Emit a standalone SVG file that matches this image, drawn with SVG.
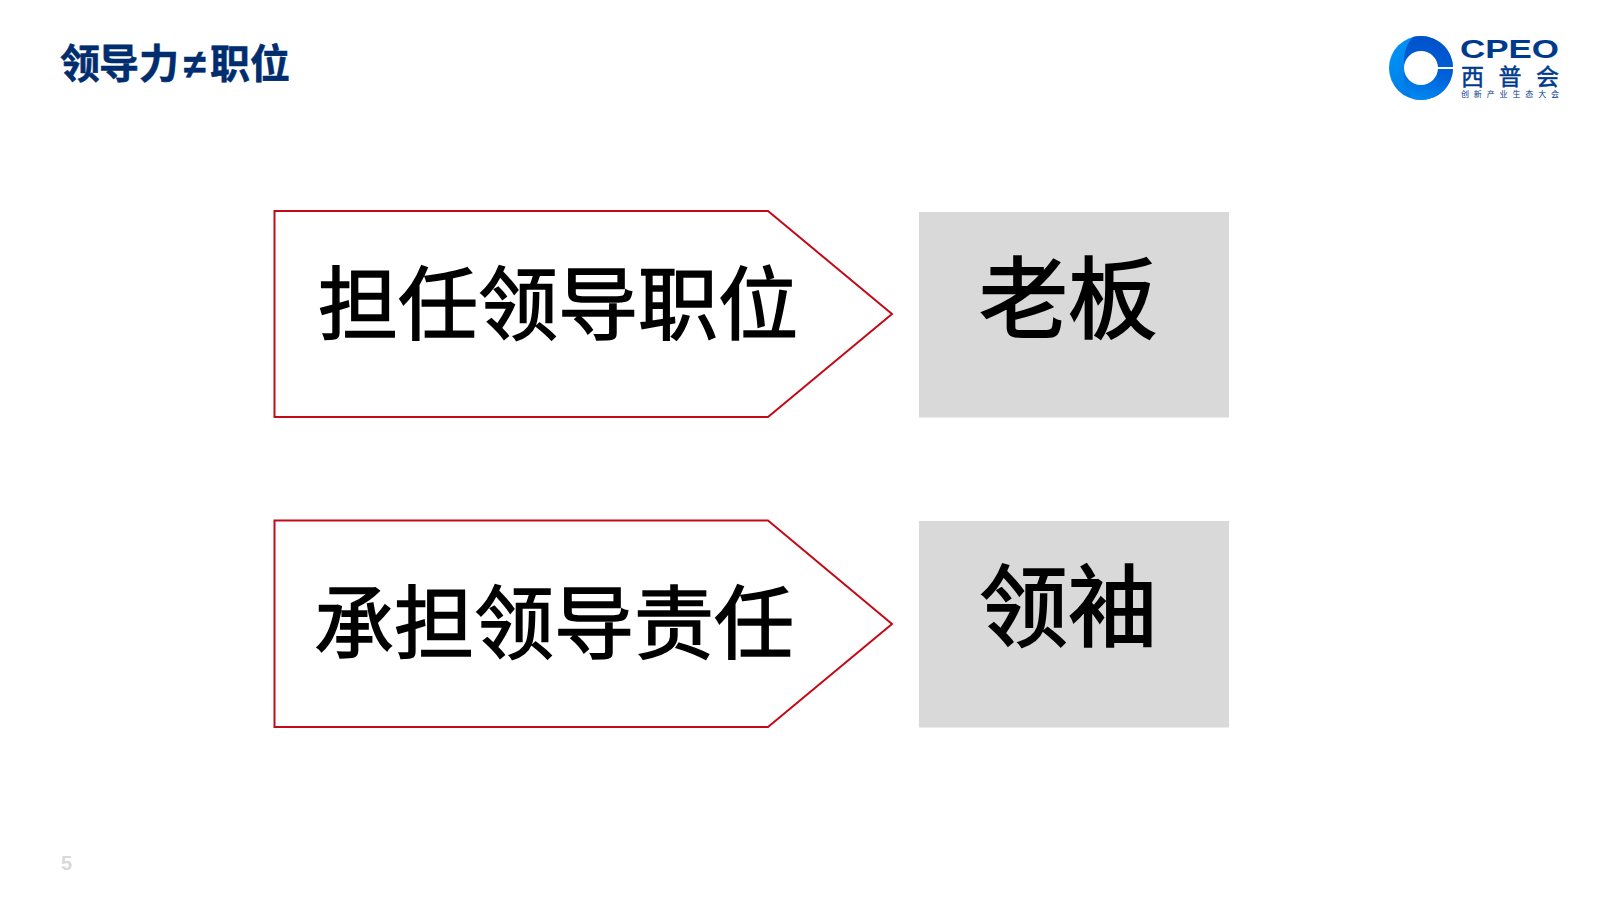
<svg xmlns="http://www.w3.org/2000/svg" width="1600" height="900" viewBox="0 0 1600 900">
<style>
text{font-family:"Liberation Sans","Noto Sans CJK SC",sans-serif}
.arrow{fill:#fff;stroke:#c20a18;stroke-width:2}
.box{fill:#d9d9d9}
.t1{font-size:80px;fill:#000;stroke:#000;stroke-width:1.5px}
.t2{font-size:89px;fill:#000;stroke:#000;stroke-width:1.8px}
.logo{fill:#003a8c}
</style>
<defs>
<linearGradient id="ring" x1="0" y1="0" x2="1" y2="1"><stop offset="0" stop-color="#0098f5"/><stop offset="1" stop-color="#0068e0"/></linearGradient>
<linearGradient id="inner" x1="0.6" y1="0" x2="0.4" y2="1"><stop offset="0" stop-color="#0050c8"/><stop offset="0.55" stop-color="#0060d8"/><stop offset="1" stop-color="#0088f0"/></linearGradient>
</defs>
<rect width="1600" height="900" fill="#fff"/>
<text x="60 99 139 184 210 250" y="78" font-size="40" font-weight="700" fill="#002d6e" stroke="#002d6e" stroke-width="0.6">领导力≠职位</text>
<g id="logo">
<circle cx="1421" cy="68" r="32" fill="url(#ring)"/>
<path d="M1413 37a32 32 0 0 1 40 31a32 32 0 0 1-40 31a34 34 0 0 1-8-31a34 34 0 0 1 8-31z" fill="url(#inner)"/>
<circle cx="1421" cy="68" r="17" fill="#fff"/>
<rect x="1436" y="67" width="18" height="2" fill="#fff"/>
<text x="1460" y="58" font-size="25" font-weight="700" class="logo" textLength="99" lengthAdjust="spacingAndGlyphs">CPEO</text>
<text x="1461" y="85" font-size="23" class="logo" stroke="#003a8c" stroke-width="0.5" textLength="98">西普会</text>
<text x="1461" y="97" font-size="8" class="logo" textLength="98">创新产业生态大会</text>
</g>
<g id="node-1"><path class="arrow" d="M274.500 211H768L892 314L768 417H274.500Z"/><text class="t1" x="318" y="333">担任领导职位</text></g>
<g id="node-2"><rect class="box" x="919" y="212" width="310" height="205.500"/><text class="t2" x="979" y="331">老板</text></g>
<g id="node-3"><path class="arrow" d="M274.500 520.500H768L892 624L768 727H274.500Z"/><text class="t1" x="314" y="652">承担领导责任</text></g>
<g id="node-4"><rect class="box" x="919" y="521" width="310" height="206.500"/><text class="t2" x="979" y="639">领袖</text></g>
<text x="61" y="870" font-size="20" font-weight="700" fill="#d9d9d9">5</text>
<g id="connectors"/>
</svg>
